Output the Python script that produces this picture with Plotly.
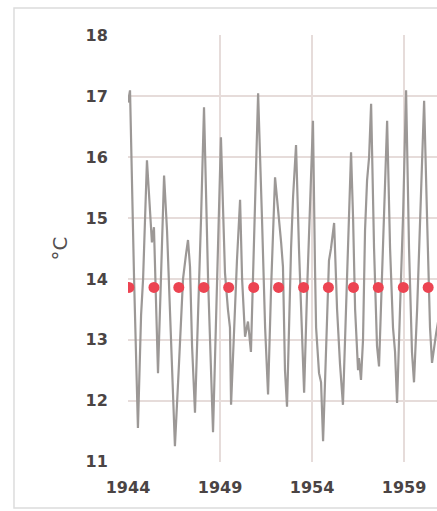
import plotly.graph_objects as go

# Temperature trace (decimal year, °C)
years = [1944.00, 1944.11, 1944.33, 1944.54, 1944.71, 1944.82, 1945.03, 1945.20, 1945.30, 1945.41,
         1945.52, 1945.63, 1945.79, 1945.96, 1946.12, 1946.34, 1946.55, 1946.77, 1946.99, 1947.15,
         1947.26, 1947.37, 1947.48, 1947.64, 1947.80, 1947.97, 1948.13, 1948.35, 1948.62, 1948.84,
         1949.05, 1949.16, 1949.27, 1949.43, 1949.54, 1949.60, 1949.76, 1949.92, 1950.09, 1950.20,
         1950.36, 1950.52, 1950.68, 1950.85, 1951.07, 1951.28, 1951.45, 1951.61, 1951.77, 1951.99,
         1952.15, 1952.32, 1952.42, 1952.53, 1952.64, 1952.75, 1952.86, 1952.97, 1953.13, 1953.29,
         1953.46, 1953.57, 1953.73, 1953.89, 1954.05, 1954.16, 1954.22, 1954.38, 1954.49, 1954.60,
         1954.76, 1954.92, 1955.03, 1955.20, 1955.36, 1955.52, 1955.68, 1955.85, 1956.01, 1956.12,
         1956.23, 1956.34, 1956.50, 1956.55, 1956.66, 1956.77, 1956.88, 1956.99, 1957.10, 1957.21,
         1957.37, 1957.53, 1957.64, 1957.80, 1957.97, 1958.08, 1958.24, 1958.40, 1958.51, 1958.62,
         1958.78, 1958.95, 1959.11, 1959.27, 1959.43, 1959.54, 1959.71, 1959.87, 1959.92, 1960.09,
         1960.25, 1960.41, 1960.52, 1960.63, 1960.74, 1960.96]
temps = [16.90, 17.10, 14.00, 11.55, 13.40, 14.00, 15.95, 15.20, 14.60, 14.85,
         13.70, 12.45, 14.00, 15.70, 14.80, 13.00, 11.25, 12.60, 14.00, 14.40,
         14.64, 14.20, 12.90, 11.80, 13.20, 15.00, 16.82, 14.00, 11.48, 14.00,
         16.33, 15.20, 14.10, 13.50, 13.20, 11.93, 13.20, 14.30, 15.30, 14.00,
         13.05, 13.30, 12.80, 14.50, 17.05, 15.00, 13.20, 12.10, 13.80, 15.67,
         15.20, 14.60, 14.20, 12.50, 11.90, 13.40, 14.50, 15.35, 16.20, 14.50,
         12.90, 12.13, 13.80, 15.30, 16.60, 14.20, 13.20, 12.45, 12.30, 11.33,
         12.80, 14.30, 14.50, 14.92, 13.50, 12.60, 11.93, 13.50, 15.00, 16.08,
         15.00, 13.50, 12.50, 12.70, 12.34, 13.00, 14.80, 15.62, 16.00, 16.88,
         14.50, 12.90, 12.56, 14.00, 15.50, 16.60, 14.50, 13.20, 12.80, 11.96,
         13.50, 15.08, 17.10, 14.50, 12.80, 12.30, 13.50, 15.00, 15.40, 16.93,
         15.00, 13.20, 12.62, 12.90, 13.10, 13.50]

# Mean markers
mean_years = [1944.05, 1945.41, 1946.76, 1948.12, 1949.47, 1950.83, 1952.18,
              1953.54, 1954.89, 1956.25, 1957.60, 1958.96, 1960.31, 1961.67]
mean_temps = [13.86] * len(mean_years)

x_ticks = [1944, 1949, 1954, 1959]
y_ticks = [11, 12, 13, 14, 15, 16, 17, 18]

fig = go.Figure()
fig.add_trace(go.Scatter(x=years, y=temps, mode="lines",
                         line=dict(color="#9c9896", width=2.2), showlegend=False))
fig.add_trace(go.Scatter(x=mean_years, y=mean_temps, mode="markers",
                         marker=dict(color="#ec4452", size=11, line=dict(width=0)),
                         showlegend=False))

tickfont = dict(family="'DejaVu Sans', sans-serif", size=16, color="#4a4444", weight="bold")
fig.update_layout(
    width=437, height=511,
    margin=dict(l=128, r=0, t=35, b=49),
    paper_bgcolor="white", plot_bgcolor="white",
    xaxis=dict(range=[1944, 1960.79], tickvals=x_ticks, ticktext=[str(v) for v in x_ticks],
               showgrid=True, gridcolor="#e6dcda", gridwidth=1.5, zeroline=False,
               ticks="outside", ticklen=11, tickcolor="rgba(0,0,0,0)",
               tickfont=tickfont, showline=False),
    yaxis=dict(range=[10.99, 18.01], tickvals=y_ticks, ticktext=[str(v) for v in y_ticks],
               showgrid=True, gridcolor="#e6dcda", gridwidth=1.5, zeroline=False,
               ticks="outside", ticklen=16, tickcolor="rgba(0,0,0,0)",
               tickfont=tickfont, showline=False),
    shapes=[dict(type="rect", xref="paper", yref="paper",
                 x0=-0.369, x1=1.05, y0=-0.108, y1=1.063,
                 line=dict(color="#dcdcdc", width=1.5), fillcolor="rgba(0,0,0,0)", layer="below")],
    annotations=[dict(text="°C", xref="paper", yref="paper", x=-0.223, y=0.5,
                      textangle=-90, showarrow=False, xanchor="center", yanchor="middle",
                      font=dict(family="'DejaVu Sans', sans-serif", size=20, color="#555050"))],
)

fig.write_html("out.html", config={"displayModeBar": False},
               post_script="document.body.style.margin='0';document.body.style.overflow='hidden';")
